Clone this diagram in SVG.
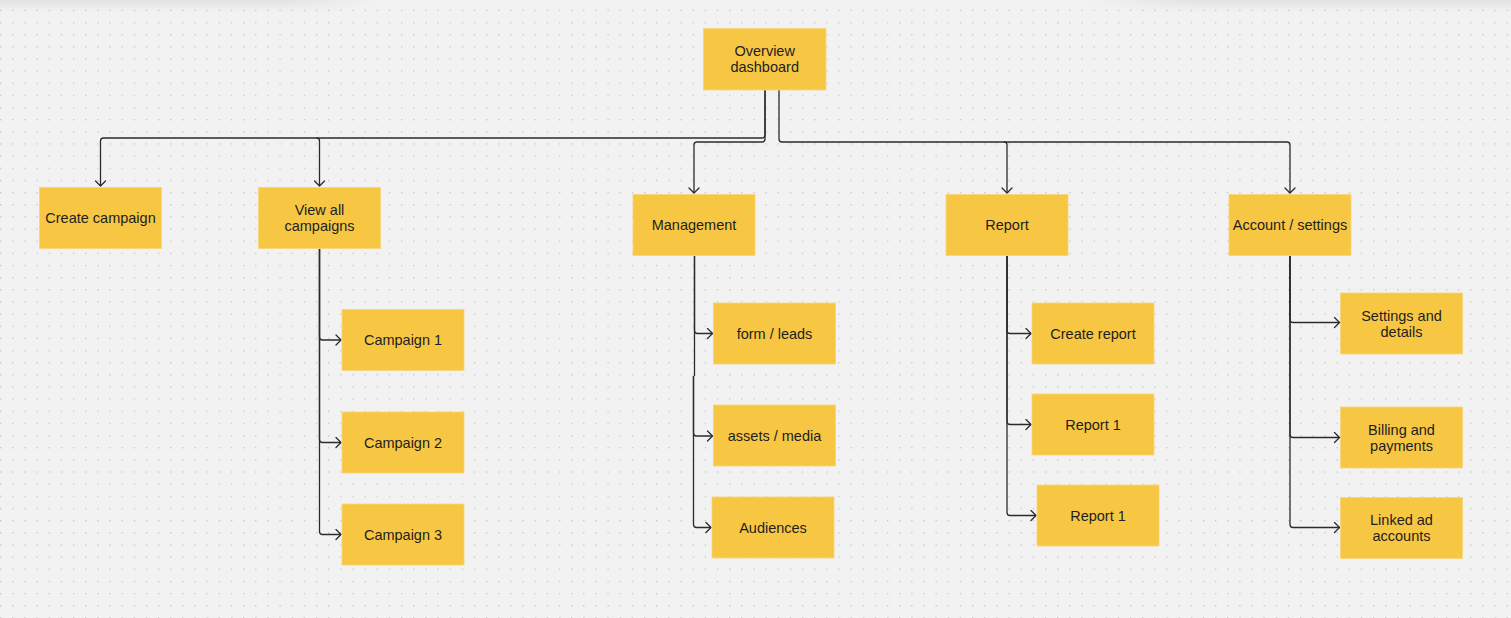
<svg xmlns="http://www.w3.org/2000/svg" width="1511" height="618" viewBox="0 0 1511 618">
<defs>
<pattern id="dots" x="0" y="9.7" width="12.15" height="12.15" patternUnits="userSpaceOnUse">
<rect x="0" y="0" width="1.3" height="1.3" fill="#c4c4c4"/>
</pattern>
<linearGradient id="shade" x1="0" y1="0" x2="0" y2="1">
<stop offset="0" stop-color="#000" stop-opacity="0.06"/>
<stop offset="1" stop-color="#000" stop-opacity="0"/>
</linearGradient>
<linearGradient id="fadeL" x1="0" y1="0" x2="1" y2="0">
<stop offset="0" stop-color="#fff" stop-opacity="1"/>
<stop offset="0.75" stop-color="#fff" stop-opacity="1"/>
<stop offset="1" stop-color="#fff" stop-opacity="0"/>
</linearGradient>
<linearGradient id="fadeR" x1="0" y1="0" x2="1" y2="0">
<stop offset="0" stop-color="#fff" stop-opacity="0"/>
<stop offset="0.25" stop-color="#fff" stop-opacity="1"/>
<stop offset="1" stop-color="#fff" stop-opacity="1"/>
</linearGradient>
<mask id="mL"><rect x="0" y="0" width="380" height="12" fill="url(#fadeL)"/></mask>
<mask id="mR"><rect x="1085" y="0" width="426" height="12" fill="url(#fadeR)"/></mask>
<marker id="arr" markerUnits="userSpaceOnUse" markerWidth="12" markerHeight="12" viewBox="-7 -6 8 12" refX="0" refY="0" orient="auto">
<path d="M-5,-5 L0,0 L-5,5" fill="none" stroke="#2b2b2b" stroke-width="1.3" stroke-linecap="round" stroke-linejoin="round"/>
</marker>
</defs>
<style>
.node rect{fill:#f7c744;stroke:#f8d47a;stroke-width:0.8}
.node text{font-family:"Liberation Sans",Arial,sans-serif;font-size:14.5px;fill:#1e1e1e;text-anchor:middle}
#connectors path{fill:none;stroke:#2b2b2b;stroke-width:1.3;marker-end:url(#arr)}
#connectors path.nm{marker-end:none}
</style>
<rect width="1511" height="618" fill="#f2f2f2"/>
<rect width="1511" height="618" fill="url(#dots)"/>
<rect x="0" y="0" width="380" height="12" fill="url(#shade)" mask="url(#mL)"/>
<rect x="1085" y="0" width="426" height="12" fill="url(#shade)" mask="url(#mR)"/>

<g id="connectors">
<path d="M765,90 V135 Q765,138 762,138 H103.5 Q100.5,138 100.5,141 V186"/>
<path d="M316.5,138 Q319.5,138 319.5,141 V186"/>
<path d="M765,90 V139 Q765,142 762,142 H697 Q694,142 694,145 V193"/>
<path d="M779,90 V139 Q779,142 782,142 H1004 Q1007,142 1007,145 V193"/>
<path d="M1004,142 H1287 Q1290,142 1290,145 V193"/>

<path d="M319.5,249 V337 Q319.5,340 322.5,340 H341"/>
<path d="M319.5,249 V439.5 Q319.5,442.5 322.5,442.5 H341"/>
<path d="M319.5,249 V531.5 Q319.5,534.5 322.5,534.5 H341"/>

<path d="M694.5,256 V330.5 Q694.5,333.5 697.5,333.5 H712.5"/>
<path d="M694.5,256 V376"  class="nm"/>
<path d="M693.5,376 V433 Q693.5,436 696.5,436 H712.5"/>
<path d="M693.5,376 V524.5 Q693.5,527.5 696.5,527.5 H711"/>

<path d="M1007,256 V330.5 Q1007,333.5 1010,333.5 H1031"/>
<path d="M1007,256 V421.5 Q1007,424.5 1010,424.5 H1031"/>
<path d="M1007,256 V512.5 Q1007,515.5 1010,515.5 H1036"/>

<path d="M1290,256 V319.5 Q1290,322.5 1293,322.5 H1339.5"/>
<path d="M1290,256 V434.5 Q1290,437.5 1293,437.5 H1339.5"/>
<path d="M1290,256 V524.5 Q1290,527.5 1293,527.5 H1339.5"/>
</g>

<g id="overview" class="node"><rect x="703.5" y="28.5" width="122.5" height="61.5"/><text x="764.7" y="56">Overview</text><text x="764.7" y="72">dashboard</text></g>
<g id="create-campaign" class="node"><rect x="39.5" y="187.5" width="122" height="61"/><text x="100.5" y="223">Create campaign</text></g>
<g id="view-all" class="node"><rect x="258.5" y="187.5" width="122" height="61"/><text x="319.5" y="215">View all</text><text x="319.5" y="231">campaigns</text></g>
<g id="campaign-1" class="node"><rect x="342" y="309.5" width="122" height="61"/><text x="403" y="345">Campaign 1</text></g>
<g id="campaign-2" class="node"><rect x="342" y="412" width="122" height="61"/><text x="403" y="447.5">Campaign 2</text></g>
<g id="campaign-3" class="node"><rect x="342" y="504" width="122" height="61"/><text x="403" y="539.5">Campaign 3</text></g>

<g id="management" class="node"><rect x="633" y="194.5" width="122" height="61"/><text x="694" y="230">Management</text></g>
<g id="form-leads" class="node"><rect x="713.5" y="303" width="122" height="61"/><text x="774.5" y="338.5">form / leads</text></g>
<g id="assets-media" class="node"><rect x="713.5" y="405" width="122" height="61"/><text x="774.5" y="440.5">assets / media</text></g>
<g id="audiences" class="node"><rect x="712" y="497" width="122" height="61"/><text x="773" y="532.5">Audiences</text></g>

<g id="report" class="node"><rect x="946" y="194.5" width="122" height="61"/><text x="1007" y="230">Report</text></g>
<g id="create-report" class="node"><rect x="1032" y="303" width="122" height="61"/><text x="1093" y="338.5">Create report</text></g>
<g id="report-1a" class="node"><rect x="1032" y="394" width="122" height="61"/><text x="1093" y="429.5">Report 1</text></g>
<g id="report-1b" class="node"><rect x="1037" y="485" width="122" height="61"/><text x="1098" y="520.5">Report 1</text></g>

<g id="account" class="node"><rect x="1229" y="194.5" width="122" height="61"/><text x="1290" y="230">Account / settings</text></g>
<g id="settings" class="node"><rect x="1340.5" y="293" width="122" height="61"/><text x="1401.5" y="320.5">Settings and</text><text x="1401.5" y="336.5">details</text></g>
<g id="billing" class="node"><rect x="1340.5" y="407" width="122" height="61"/><text x="1401.5" y="434.5">Billing and</text><text x="1401.5" y="450.5">payments</text></g>
<g id="linked" class="node"><rect x="1340.5" y="497.5" width="122" height="61"/><text x="1401.5" y="525">Linked ad</text><text x="1401.5" y="541">accounts</text></g>
</svg>
